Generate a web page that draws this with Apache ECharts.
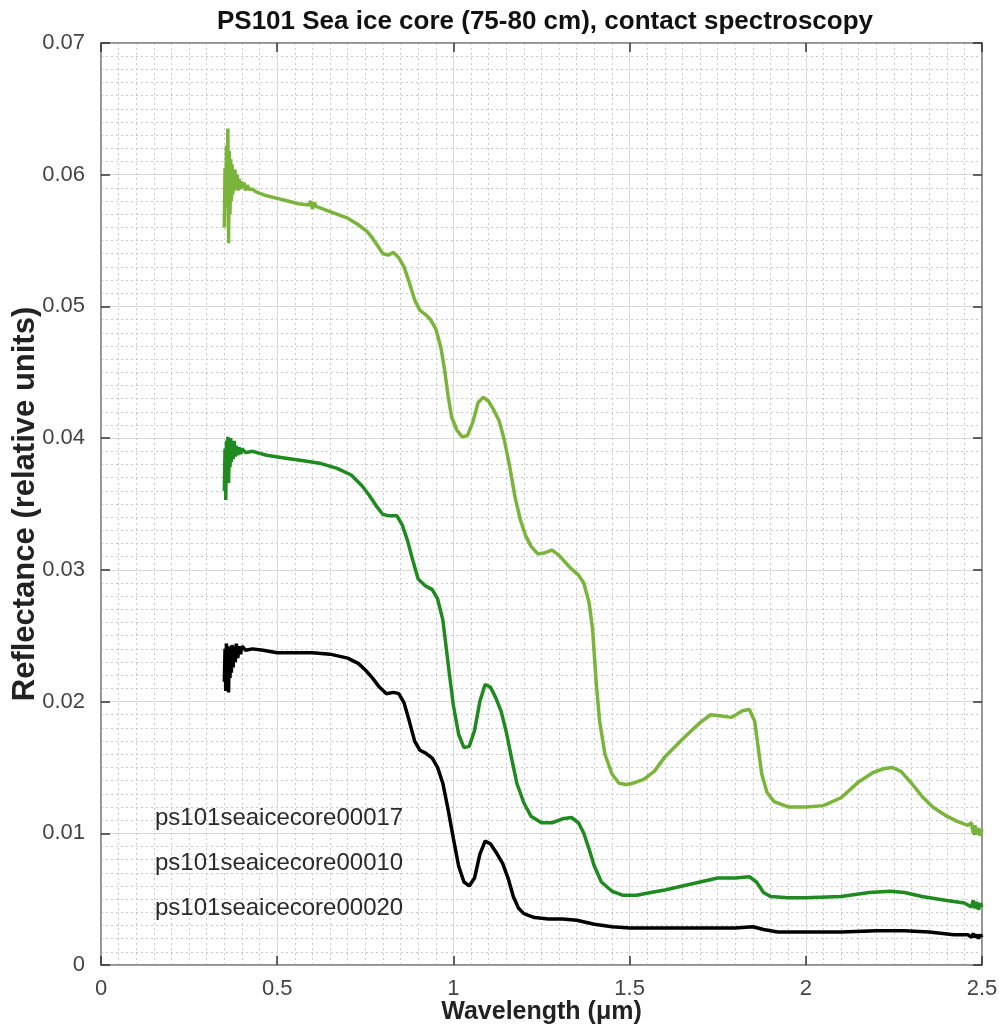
<!DOCTYPE html>
<html>
<head>
<meta charset="utf-8">
<script src="https://cdn.jsdelivr.net/npm/echarts@6/dist/echarts.min.js"></script>
<style>html,body{margin:0;padding:0;background:#fff}#c{width:999px;height:1028px}</style>
</head>
<body>
<div id="c"></div>
<script>
const seriesNames = ['ps101seaicecore00017', 'ps101seaicecore00010', 'ps101seaicecore00020'];
const xTicks = [0, 0.5, 1, 1.5, 2, 2.5];

const wl17 = [0.350,0.352,0.354,0.356,0.358,0.360,0.362,0.364,0.366,0.368,0.370,0.372,0.374,0.376,0.378,0.380,0.383,0.386,0.389,0.392,0.395,0.398,0.402,0.406,0.410,0.415,0.420,0.43,0.44,0.47,0.50,0.53,0.56,0.59,0.595,0.600,0.605,0.61,0.65,0.70,0.73,0.755,0.77,0.785,0.80,0.815,0.83,0.845,0.86,0.875,0.89,0.905,0.92,0.935,0.95,0.965,0.975,0.985,0.995,1.01,1.025,1.04,1.055,1.07,1.085,1.10,1.115,1.13,1.145,1.16,1.175,1.19,1.205,1.22,1.24,1.26,1.28,1.30,1.33,1.355,1.37,1.385,1.395,1.405,1.415,1.43,1.45,1.47,1.49,1.51,1.54,1.57,1.60,1.63,1.66,1.70,1.73,1.76,1.79,1.82,1.84,1.855,1.865,1.875,1.89,1.91,1.95,2.00,2.05,2.10,2.15,2.19,2.22,2.245,2.27,2.30,2.33,2.36,2.40,2.43,2.46,2.47,2.475,2.48,2.485,2.49,2.495,2.5];
const refl17 = [0.0560,0.0605,0.0575,0.0622,0.0590,0.0635,0.0548,0.0618,0.0570,0.0612,0.0580,0.0608,0.0585,0.0602,0.0588,0.0604,0.0590,0.0600,0.0588,0.0597,0.0589,0.0595,0.0590,0.0594,0.0588,0.0592,0.0589,0.0589,0.0587,0.0584,0.0582,0.0580,0.0578,0.0577,0.0580,0.0574,0.0579,0.0576,0.0572,0.0567,0.0562,0.0557,0.0552,0.0546,0.0540,0.0539,0.0541,0.0537,0.0530,0.0518,0.0505,0.0497,0.0494,0.0490,0.0483,0.0468,0.0452,0.0432,0.0416,0.0406,0.0401,0.0402,0.0412,0.0427,0.0431,0.0428,0.0421,0.0413,0.0398,0.0378,0.0355,0.0338,0.0326,0.0318,0.0312,0.0313,0.0315,0.0311,0.0302,0.0296,0.0290,0.0275,0.0255,0.0215,0.0185,0.0160,0.0145,0.0138,0.0137,0.0138,0.0141,0.0147,0.0158,0.0166,0.0174,0.0184,0.0190,0.0189,0.0188,0.0193,0.0194,0.0185,0.0165,0.0145,0.0131,0.0124,0.0120,0.0120,0.0121,0.0127,0.0139,0.0146,0.0149,0.0150,0.0147,0.0138,0.0128,0.0120,0.0113,0.0109,0.0106,0.0108,0.0100,0.0106,0.0099,0.0104,0.0098,0.0103];

const wl10 = [0.350,0.352,0.354,0.356,0.358,0.360,0.362,0.364,0.366,0.368,0.370,0.372,0.375,0.378,0.381,0.384,0.388,0.392,0.396,0.40,0.41,0.43,0.47,0.52,0.57,0.62,0.67,0.71,0.74,0.76,0.78,0.80,0.82,0.84,0.855,0.87,0.885,0.90,0.92,0.94,0.955,0.97,0.98,0.99,1.00,1.015,1.03,1.045,1.06,1.075,1.09,1.105,1.12,1.135,1.15,1.165,1.18,1.20,1.22,1.25,1.28,1.31,1.335,1.355,1.37,1.385,1.40,1.42,1.45,1.48,1.52,1.56,1.60,1.65,1.70,1.75,1.80,1.84,1.86,1.88,1.90,1.95,2.00,2.10,2.18,2.24,2.28,2.33,2.40,2.45,2.47,2.475,2.48,2.485,2.49,2.495,2.5];
const refl10 = [0.0360,0.0392,0.0353,0.0398,0.0372,0.0401,0.0366,0.0395,0.0378,0.0400,0.0382,0.0396,0.0384,0.0398,0.0386,0.0394,0.0387,0.0393,0.0388,0.0392,0.0389,0.0390,0.0387,0.0385,0.0383,0.0381,0.0377,0.0372,0.0364,0.0357,0.0349,0.0342,0.0341,0.0341,0.0334,0.0322,0.0307,0.0293,0.0288,0.0285,0.0278,0.0262,0.0240,0.0218,0.0197,0.0175,0.0165,0.0166,0.0178,0.0200,0.0213,0.0211,0.0203,0.0193,0.0177,0.0157,0.0138,0.0123,0.0113,0.0108,0.0108,0.0111,0.0112,0.0108,0.0100,0.0088,0.0075,0.0063,0.0056,0.0053,0.0053,0.0055,0.0057,0.0060,0.0063,0.0066,0.0066,0.0067,0.0063,0.0055,0.0052,0.0051,0.0051,0.0052,0.0055,0.0056,0.0055,0.0052,0.0049,0.0047,0.0044,0.0049,0.0043,0.0048,0.0042,0.0047,0.0044];

const wl20 = [0.350,0.352,0.354,0.356,0.358,0.360,0.362,0.364,0.366,0.368,0.370,0.372,0.375,0.378,0.381,0.384,0.388,0.392,0.396,0.40,0.41,0.43,0.46,0.50,0.55,0.60,0.65,0.70,0.73,0.75,0.77,0.79,0.81,0.83,0.845,0.86,0.875,0.89,0.905,0.92,0.94,0.955,0.97,0.985,1.00,1.015,1.03,1.045,1.06,1.075,1.09,1.105,1.12,1.14,1.155,1.17,1.185,1.20,1.23,1.27,1.31,1.35,1.40,1.45,1.50,1.60,1.70,1.80,1.85,1.88,1.92,2.00,2.10,2.20,2.28,2.35,2.42,2.46,2.47,2.475,2.48,2.485,2.49,2.495,2.5];
const refl20 = [0.0215,0.0240,0.0208,0.0244,0.0212,0.0238,0.0207,0.0242,0.0218,0.0240,0.0222,0.0243,0.0226,0.0242,0.0230,0.0244,0.0233,0.0242,0.0236,0.0242,0.0239,0.0240,0.0239,0.0237,0.0237,0.0237,0.0236,0.0233,0.0229,0.0224,0.0218,0.0211,0.0206,0.0207,0.0206,0.0199,0.0185,0.0170,0.0163,0.0161,0.0157,0.0150,0.0138,0.0118,0.0096,0.0075,0.0063,0.0060,0.0066,0.0084,0.0094,0.0092,0.0086,0.0077,0.0066,0.0052,0.0043,0.0039,0.0036,0.0035,0.0035,0.0034,0.0031,0.0029,0.0028,0.0028,0.0028,0.0028,0.0029,0.0027,0.0025,0.0025,0.0025,0.0026,0.0026,0.0025,0.0023,0.0023,0.0021,0.0024,0.0021,0.0023,0.0020,0.0023,0.0021];

const colors = ['#7ab43a', '#1f8a1f', '#000000'];
const zip = (a, b) => a.map((v, i) => [v, b[i]]);
const FONT = '"Liberation Sans", Arial, Helvetica, sans-serif';

const chart = echarts.init(document.getElementById('c'));
const gridLine = () => ({ show: true, lineStyle: { color: '#d9d9d9', width: 1 } });
const minorLine = () => ({ show: true, lineStyle: { color: '#c9c9c9', width: 1, type: [2, 3] } });
const axisLineStyle = () => ({ show: true, onZero: false, lineStyle: { color: '#8a8a8a', width: 1.5 } });
const tickStyle = () => ({ show: true, inside: true, length: 9, lineStyle: { color: '#333', width: 1.5 } });

chart.setOption({
  animation: false,
  backgroundColor: '#ffffff',
  title: {
    text: 'PS101 Sea ice core (75-80 cm), contact spectroscopy',
    left: 540, top: 4, textAlign: 'center',
    textStyle: { fontFamily: FONT, fontSize: 26, fontWeight: 'bold', color: '#111' }
  },
  legend: {
    orient: 'vertical', left: 145, top: 800,
    icon: 'none', itemWidth: 0, itemHeight: 26, itemGap: 19,
    selectedMode: false,
    textStyle: { fontFamily: FONT, fontSize: 24, lineHeight: 26, color: '#2a2a2a' },
    data: seriesNames
  },
  grid: { left: 101, right: 17, top: 43, bottom: 63, containLabel: false, outerBoundsMode: 'none',
    show: true, borderColor: '#8a8a8a', borderWidth: 1.5 },
  xAxis: [{
    type: 'value', min: 0, max: 2.5, interval: 0.5,
    name: 'Wavelength (μm)', nameLocation: 'middle', nameGap: 34, nameMoveOverlap: false,
    nameTextStyle: { fontFamily: FONT, fontSize: 25, lineHeight: 26, fontWeight: 'bold', color: '#222' },
    axisLine: axisLineStyle(), axisTick: tickStyle(),
    axisLabel: { fontFamily: FONT, fontSize: 22, color: '#444', margin: 13,
      formatter: v => { const t = xTicks.find(k => Math.abs(k - v) < 1e-9); return t === undefined ? '' : String(t); } },
    splitLine: gridLine(),
    minorTick: { show: false, splitNumber: 10 },
    minorSplitLine: minorLine()
  }, {
    type: 'value', min: 0, max: 2.5, interval: 0.5, position: 'top',
    axisLine: axisLineStyle(), axisTick: tickStyle(), axisLabel: { show: false }, splitLine: { show: false }
  }],
  yAxis: [{
    type: 'value', min: 0, max: 0.07, interval: 0.01,
    name: 'Reflectance (relative units)', nameLocation: 'middle', nameGap: 60, nameMoveOverlap: false,
    nameTextStyle: { fontFamily: FONT, fontSize: 31, lineHeight: 32, fontWeight: 'bold', color: '#222' },
    axisLine: axisLineStyle(), axisTick: tickStyle(),
    axisLabel: { fontFamily: FONT, fontSize: 22, color: '#444', margin: 16,
      formatter: v => v === 0 ? '0' : v.toFixed(2) },
    splitLine: gridLine(),
    minorTick: { show: false, splitNumber: 10 },
    minorSplitLine: minorLine()
  }, {
    type: 'value', min: 0, max: 0.07, interval: 0.01, position: 'right',
    axisLine: axisLineStyle(), axisTick: tickStyle(), axisLabel: { show: false }, splitLine: { show: false }
  }],
  series: [
    { name: seriesNames[0], type: 'line', data: zip(wl17, refl17), showSymbol: false, lineStyle: { color: colors[0], width: 3.5 }, itemStyle: { color: colors[0] } },
    { name: seriesNames[1], type: 'line', data: zip(wl10, refl10), showSymbol: false, lineStyle: { color: colors[1], width: 3.5 }, itemStyle: { color: colors[1] } },
    { name: seriesNames[2], type: 'line', data: zip(wl20, refl20), showSymbol: false, lineStyle: { color: colors[2], width: 3.5 }, itemStyle: { color: colors[2] } }
  ]
});
</script>
</body>
</html>
